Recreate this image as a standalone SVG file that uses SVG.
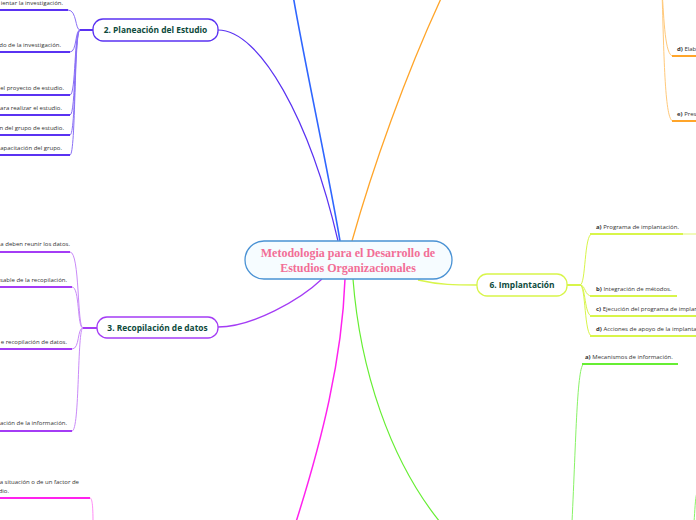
<svg xmlns="http://www.w3.org/2000/svg" width="696" height="520" viewBox="0 0 696 520">
<style>
.leaf{font-family:"Open Sans","Noto Sans",sans-serif;font-size:6px;fill:#333}
.leafb{font-weight:bold}
.node{font-family:"Open Sans","Noto Sans",sans-serif;font-size:8.4px;font-weight:bold;fill:#0d4a3c;text-anchor:middle}
.title{font-family:"Liberation Serif",serif;font-size:12px;font-weight:bold;fill:#f26e96;text-anchor:middle}
.c{fill:none}
.ul{fill:none;stroke-width:2}
</style>
<rect width="696" height="520" fill="#ffffff"/>
<g id="connectors">
  <path class="c" d="M218,30 C260,30 310,120 338,241" stroke="#5a32f2" stroke-width="1.2"/>
  <path class="c" d="M340,241 C330,180 302,50 293,-5" stroke="#2f66ff" stroke-width="1.6"/>
  <path class="c" d="M352,241 C372,170 405,75 445,-10" stroke="#ffa52a" stroke-width="1.3"/>
  <path class="c" d="M218,327 C252,327 300,300 322,279" stroke="#a43cf5" stroke-width="1.3"/>
  <path class="c" d="M345,279 C342,360 322,440 296,522" stroke="#ff22ee" stroke-width="1.5"/>
  <path class="c" d="M353,279 C360,370 390,460 440,522" stroke="#66ee33" stroke-width="1.2"/>
  <path class="c" d="M418,280 C440,285 455,285 477,285" stroke="#d8f54a" stroke-width="1.3"/>
  <g stroke="#5a32f2">
    <path class="ul" d="M80,30 H93" stroke-width="2.4"/>
    <path class="c" d="M80,30 C75,30 77,10 68,10" stroke="#8a70f6"/>
    <path class="c" d="M80,30 C75,30 77,52 70,52" stroke="#8a70f6"/>
    <path class="c" d="M80,30 C74,30 76,95 70,95" stroke="#8a70f6"/>
    <path class="c" d="M80,30 C74,30 76,115 70,115" stroke="#8a70f6"/>
    <path class="c" d="M80,30 C74,30 76,135 70,135" stroke="#8a70f6"/>
    <path class="c" d="M80,30 C74,30 76,155 70,155" stroke="#8a70f6"/>
    <path class="ul" d="M0,10 H68"/>
    <path class="ul" d="M0,52 H70"/>
    <path class="ul" d="M0,95 H70"/>
    <path class="ul" d="M0,115 H70"/>
    <path class="ul" d="M0,135 H70"/>
    <path class="ul" d="M0,155 H70"/>
  </g>
  <g stroke="#a43cf5">
    <path class="ul" d="M83,328 H97" stroke-width="2.4"/>
    <path class="c" d="M83,328 C77,328 80,252 70,252" stroke="#c98af8"/>
    <path class="c" d="M83,328 C77,328 80,287 72,287" stroke="#c98af8"/>
    <path class="c" d="M83,328 C77,328 80,349 72,349" stroke="#c98af8"/>
    <path class="c" d="M83,328 C77,328 80,431 72,431" stroke="#c98af8"/>
    <path class="ul" d="M0,252 H70"/>
    <path class="ul" d="M0,287 H72"/>
    <path class="ul" d="M0,349 H72"/>
    <path class="ul" d="M0,431 H72"/>
  </g>
  <path class="ul" d="M0,498 H90" stroke="#ff22ee"/>
  <path class="c" d="M90,498 C92,498 93,505 93,522" stroke="#ff8af5"/>
  <g stroke="#d8f54a">
    <path class="ul" d="M567,285 H580" stroke-width="2.4"/>
    <path class="c" d="M580,285 C586,285 584,234 592,234"/>
    <path class="c" d="M580,285 C586,285 584,296 592,296"/>
    <path class="c" d="M580,285 C586,285 584,316 592,316"/>
    <path class="c" d="M580,285 C586,285 584,336 592,336"/>
    <path class="ul" d="M590,234 H683"/>
    <path class="ul" d="M683,234 H696" stroke="#f0fbb8"/>
    <path class="ul" d="M590,296 H677"/>
    <path class="ul" d="M590,316 H696"/>
    <path class="ul" d="M590,336 H696"/>
  </g>
  <g stroke="#ffa52a">
    <path class="c" d="M662,-10 C664,20 665,56 673,56" stroke="#ffc97a"/>
    <path class="c" d="M662,-10 C664,60 665,121 673,121" stroke="#ffc97a"/>
    <path class="ul" d="M672,56 H696"/>
    <path class="ul" d="M672,121 H696"/>
  </g>
  <g stroke="#66ee33">
    <path class="c" d="M572,522 C576,440 577,364 584,364" stroke="#88f266"/>
    <path class="ul" d="M582,364 H678"/>
    <path class="c" d="M694,522 C695,510 695,500 697,492" stroke="#88f266"/>
  </g>
</g>
<g id="center">
  <rect x="245" y="241" width="207" height="38" rx="19" fill="#f6fcff" stroke="#4a92d4" stroke-width="1.3"/>
  <text class="title" x="348" y="257">Metodologia para el Desarrollo de</text>
  <text class="title" x="348" y="272">Estudios Organizacionales</text>
</g>
<g id="node2">
  <rect x="93" y="19" width="125" height="22" rx="10" fill="#ffffff" stroke="#5a32f2" stroke-width="1.3"/>
  <text class="node" x="155.5" y="33">2. Planeación del Estudio</text>
</g>
<g id="node2-leaves">
  <text class="leaf" x="63" y="5" text-anchor="end">ientar la investigación.</text>
  <text class="leaf" x="61" y="47" text-anchor="end">do de la investigación.</text>
  <text class="leaf" x="64" y="90" text-anchor="end">el proyecto de estudio.</text>
  <text class="leaf" x="62" y="110" text-anchor="end">ara realizar el estudio.</text>
  <text class="leaf" x="64" y="130" text-anchor="end">n del grupo de estudio.</text>
  <text class="leaf" x="62" y="150" text-anchor="end">apacitación del grupo.</text>
</g>
<g id="node3">
  <rect x="97" y="317" width="121" height="21" rx="10" fill="#ffffff" stroke="#a43cf5" stroke-width="1.3"/>
  <text class="node" x="157.5" y="330.5">3. Recopilación de datos</text>
</g>
<g id="node3-leaves">
  <text class="leaf" x="70" y="246" text-anchor="end">a deben reunir los datos.</text>
  <text class="leaf" x="67" y="282" text-anchor="end">sable de la recopilación.</text>
  <text class="leaf" x="67" y="344" text-anchor="end">e recopilación de datos.</text>
  <text class="leaf" x="67" y="425" text-anchor="end">ación de la información.</text>
</g>
<g id="magenta-leaf">
  <text class="leaf" x="79" y="484" text-anchor="end">a situación o de un factor de</text>
  <text class="leaf" x="9" y="493" text-anchor="end">dio.</text>
</g>
<g id="node6">
  <rect x="477" y="274" width="90" height="22" rx="10" fill="#ffffff" stroke="#d8f54a" stroke-width="1.3"/>
  <text class="node" x="522" y="288">6. Implantación</text>
</g>
<g id="node6-leaves">
  <text class="leaf" x="596" y="229"><tspan class="leafb">a)</tspan> Programa de implantación.</text>
  <text class="leaf" x="596" y="291"><tspan class="leafb">b)</tspan> Integración de métodos.</text>
  <text class="leaf" x="596" y="311"><tspan class="leafb">c)</tspan> Ejecución del programa de implan</text>
  <text class="leaf" x="596" y="331"><tspan class="leafb">d)</tspan> Acciones de apoyo de la implanta</text>
</g>
<g id="orange-leaves">
  <text class="leaf" x="677" y="51"><tspan class="leafb">d)</tspan> Elab</text>
  <text class="leaf" x="677" y="116"><tspan class="leafb">e)</tspan> Pres</text>
</g>
<g id="green-leaves">
  <text class="leaf" x="585" y="359"><tspan class="leafb">a)</tspan> Mecanismos de información.</text>
</g>
</svg>
